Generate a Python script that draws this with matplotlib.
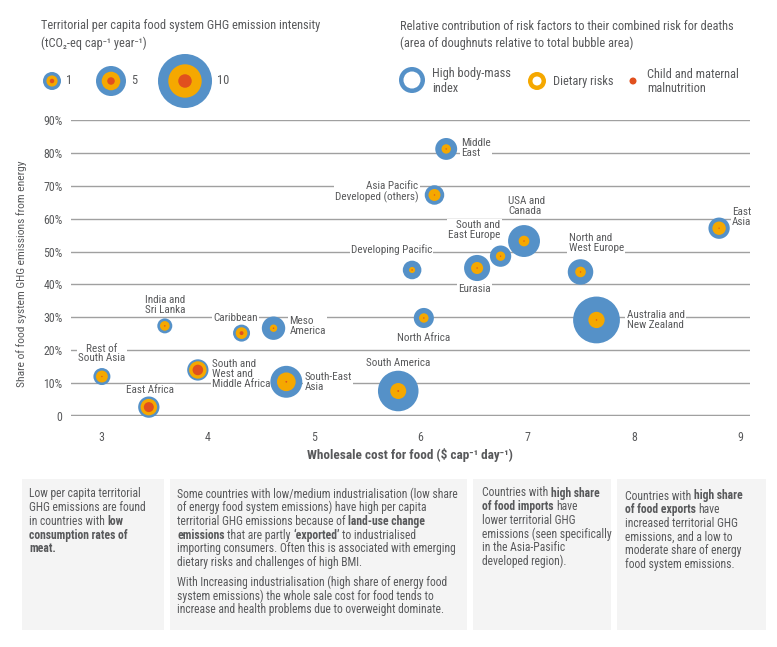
import numpy as np
import matplotlib
matplotlib.use('Agg')
import matplotlib.pyplot as plt
from matplotlib import font_manager
from matplotlib.patches import Circle, Rectangle

names = {f.name for f in font_manager.fontManager.ttflist}
base, k = 'Liberation Sans', 1.0
for cand in ['Roboto Condensed', 'Liberation Sans Narrow', 'Open Sans Condensed']:
    if cand in names:
        base, k = cand, 0.84
        break
plt.rcParams['font.family'] = [base, 'DejaVu Sans']

FS_LABEL = 6.75 / k
FS_TITLE = 7.5 / k
FS_BOX = 7.0 / k
FS_TICK = 7.2 / k
FS_YLAB = 6.95 / k
FS_XLAB = 8.0 / k

BLUE = '#5591c8'
ORANGE = '#f5a800'
RED = '#e1501e'
TXT = '#58595b'
GRID = '#a0a0a0'
BOX = '#f4f4f4'

# data
regions = ['Rest of\nSouth Asia', 'East Africa', 'India and\nSri Lanka',
           'South and\nWest and\nMiddle Africa', 'Caribbean', 'Meso\nAmerica',
           'South-East\nAsia', 'South America', 'Developing Pacific', 'North Africa',
           'Middle\nEast', 'Asia Pacific\nDeveloped (others)', 'Eurasia',
           'South and\nEast Europe', 'USA and\nCanada', 'North and\nWest Europe',
           'Australia and\nNew Zealand', 'East\nAsia']
cost = [3.01, 3.45, 3.60, 3.91, 4.32, 4.62, 4.74, 5.79, 5.92, 6.03,
        6.24, 6.13, 6.53, 6.75, 6.97, 7.50, 7.65, 8.80]
energy_share = [12.0, 2.7, 27.4, 14.0, 25.2, 26.7, 10.4, 7.6, 44.4, 29.8,
                81.2, 67.2, 45.0, 48.6, 53.2, 43.8, 29.2, 57.1]
intensity = [0.9, 2.1, 0.7, 2.1, 0.9, 2.8, 5.4, 7.2, 1.2, 1.7,
             2.3, 1.5, 3.7, 2.1, 5.4, 3.5, 8.5, 2.1]
dietary = [0.48, 0.38, 0.40, 0.42, 0.42, 0.096, 0.34, 0.153, 0.10, 0.215,
           0.18, 0.375, 0.21, 0.19, 0.11, 0.17, 0.12, 0.39]
child = [0.006, 0.22, 0.01, 0.245, 0.053, 0.004, 0.003, 0.002, 0.006, 0.005,
         0.004, 0.005, 0.003, 0.004, 0.002, 0.003, 0.001, 0.004]

legend_values = [1, 5, 10]
legend_dietary = 0.32
legend_child = 0.0625

y_ticks = [0, 10, 20, 30, 40, 50, 60, 70, 80, 90]
y_ticklabels = ['0', '10%', '20%', '30%', '40%', '50%', '60%', '70%', '80%', '90%']
x_ticks = [3, 4, 5, 6, 7, 8, 9]

# label placement: offset in px from bubble centre (dy down), alignment
label_pos = {
    'Rest of\nSouth Asia': (0, -23, 'center'),
    'East Africa': (1, -17, 'center'),
    'India and\nSri Lanka': (0, -21, 'center'),
    'South and\nWest and\nMiddle Africa': (14, 4, 'left'),
    'Caribbean': (-6, -15, 'center'),
    'Meso\nAmerica': (16, -2, 'left'),
    'South-East\nAsia': (18, 0, 'left'),
    'South America': (0, -28, 'center'),
    'Developing Pacific': (20, -20, 'right'),
    'North Africa': (0, 20, 'center'),
    'Middle\nEast': (15, -1, 'left'),
    'Asia Pacific\nDeveloped (others)': (-16, -3, 'right'),
    'Eurasia': (-3, 21, 'center'),
    'South and\nEast Europe': (0, -26, 'right'),
    'USA and\nCanada': (-16, -35, 'left'),
    'North and\nWest Europe': (-12, -29, 'left'),
    'Australia and\nNew Zealand': (30, 0, 'left'),
    'East\nAsia': (13, -11, 'left'),
}


def radius_px(v):
    return np.interp(v, [0, 1, 5, 10], [4, 9, 15, 27])


def size_pt2(r):
    return (2 * r * 72 / 100.0) ** 2


fig = plt.figure(figsize=(7.77, 6.47), dpi=100)
W, H = 777, 647

ov = fig.add_axes([0, 0, 1, 1])
ov.set_xlim(0, W)
ov.set_ylim(H, 0)
ov.axis('off')
ov.set_zorder(0)

ax = fig.add_axes([71 / W, 1 - 416 / H, (750 - 71) / W, (416 - 120) / H])
ax.set_zorder(1)
ax.patch.set_alpha(0)
ax.set_xlim(2.72, 9.09)
ax.set_ylim(0, 90)
for s in ax.spines.values():
    s.set_visible(False)
ax.set_yticks(y_ticks)
ax.set_yticklabels(y_ticklabels)
ax.set_xticks(x_ticks)
ax.tick_params(length=0, colors=TXT, labelsize=FS_TICK)
ax.tick_params(axis='y', pad=6)
ax.tick_params(axis='x', pad=11)
ax.grid(axis='y', color=GRID, lw=1)
ax.set_axisbelow(True)
ax.axhline(0, color=GRID, lw=2.5, zorder=1)
ax.set_ylabel('Share of food system GHG emissions from energy', fontsize=FS_YLAB, color=TXT)
ax.yaxis.set_label_coords(-0.065, 0.48)

R = radius_px(np.array(intensity))
r_or = R * np.sqrt(np.array(dietary) + np.array(child))
r_red = R * np.sqrt(np.array(child))
ax.scatter(cost, energy_share, s=size_pt2(R), color=BLUE, lw=0, zorder=3, clip_on=False)
ax.scatter(cost, energy_share, s=size_pt2(r_or), color=ORANGE, lw=0, zorder=4, clip_on=False)
ax.scatter(cost, energy_share, s=size_pt2(r_red), color=RED, lw=0, zorder=5, clip_on=False)

for name, x, y in zip(regions, cost, energy_share):
    dx, dy, ha = label_pos[name]
    ax.annotate(name, (x, y), xytext=(dx * 0.72, -dy * 0.72), textcoords='offset points',
                ha=ha, va='center', multialignment=ha, fontsize=FS_LABEL, color=TXT,
                linespacing=0.95, zorder=2,
                bbox=dict(fc='white', ec='none', pad=0.8))

fig.text(410 / W, 1 - 455 / H, 'Wholesale cost for food ($ cap\u207b\u00b9 day\u207b\u00b9)',
         ha='center', va='center', fontsize=FS_XLAB, fontweight='bold', color=TXT)

# legends
ov.text(41, 26, 'Territorial per capita food system GHG emission intensity',
        fontsize=FS_TITLE, color=TXT, va='center')
ov.text(41, 43, '(tCO\u2082-eq cap\u207b\u00b9 year\u207b\u00b9)', fontsize=FS_TITLE, color=TXT,
        va='center')
for v, cx in zip(legend_values, [52, 111, 185]):
    r = radius_px(v)
    ov.add_patch(Circle((cx, 81), r, color=BLUE, lw=0))
    ov.add_patch(Circle((cx, 81), r * np.sqrt(legend_dietary + legend_child), color=ORANGE, lw=0))
    ov.add_patch(Circle((cx, 81), r * np.sqrt(legend_child), color=RED, lw=0))
    ov.text(cx + r + 5, 81, str(v), fontsize=FS_TITLE, color=TXT, va='center')

ov.text(400, 27, 'Relative contribution of risk factors to their combined risk for deaths',
        fontsize=FS_TITLE, color=TXT, va='center')
ov.text(400, 43, '(area of doughnuts relative to total bubble area)',
        fontsize=FS_TITLE, color=TXT, va='center')
ov.add_patch(Circle((412, 80), 13, color=BLUE, lw=0))
ov.add_patch(Circle((412, 80), 8.5, color='white', lw=0))
ov.text(432, 81, 'High body-mass\nindex', fontsize=FS_TITLE, color=TXT, va='center',
        linespacing=1.1)
ov.add_patch(Circle((537, 81), 9, color=ORANGE, lw=0))
ov.add_patch(Circle((537, 81), 4.5, color='white', lw=0))
ov.text(553, 81, 'Dietary risks', fontsize=FS_TITLE, color=TXT, va='center')
ov.add_patch(Circle((633, 81), 3.5, color=RED, lw=0))
ov.text(647, 81, 'Child and maternal\nmalnutrition', fontsize=FS_TITLE, color=TXT, va='center',
        linespacing=1.1)

# text boxes at the bottom
for x0, x1 in [(22, 164), (170, 467), (473, 611), (617, 766)]:
    ov.add_patch(Rectangle((x0, 479), x1 - x0, 151, color=BOX, lw=0))

renderer = fig.canvas.get_renderer()


def text_width(s, weight):
    t = ov.text(0, 0, s, fontsize=FS_BOX, fontweight=weight)
    w = t.get_window_extent(renderer).width
    t.remove()
    return w


def draw_rich(x, y, lines, lh=13.7, gap=6):
    for line in lines:
        if line is None:
            y += gap
            continue
        cx = x
        for seg, bold in line:
            wt = 'bold' if bold else 'normal'
            ov.text(cx, y, seg, fontsize=FS_BOX, fontweight=wt, color=TXT, va='center')
            cx += text_width(seg, wt) + text_width('a a', wt) - text_width('aa', wt)
        y += lh


N, B = False, True
draw_rich(29, 494, [
    [('Low per capita territorial', N)],
    [('GHG emissions are found', N)],
    [('in countries with', N), ('low', B)],
    [('consumption rates of', B)],
    [('meat.', B)],
])
draw_rich(177, 494, [
    [('Some countries with low/medium industrialisation (low share', N)],
    [('of energy food system emissions) have high per capita', N)],
    [('territorial GHG emissions because of', N), ('land-use change', B)],
    [('emissions', B), ('that are partly', N), ('\u2018exported\u2019', B), ('to industrialised', N)],
    [('importing consumers. Often this is associated with emerging', N)],
    [('dietary risks and challenges of high BMI.', N)],
    None,
    [('With Increasing industrialisation (high share of energy food', N)],
    [('system emissions) the whole sale cost for food tends to', N)],
    [('increase and health problems due to overweight dominate.', N)],
])
draw_rich(482, 493, [
    [('Countries with', N), ('high share', B)],
    [('of food imports', B), ('have', N)],
    [('lower territorial GHG', N)],
    [('emissions (seen specifically', N)],
    [('in the Asia-Pasific', N)],
    [('developed region).', N)],
])
draw_rich(625, 496, [
    [('Countries with', N), ('high share', B)],
    [('of food exports', B), ('have', N)],
    [('increased territorial GHG', N)],
    [('emissions, and a low to', N)],
    [('moderate share of energy', N)],
    [('food system emissions.', N)],
])

fig.savefig('out.png', dpi=100)
